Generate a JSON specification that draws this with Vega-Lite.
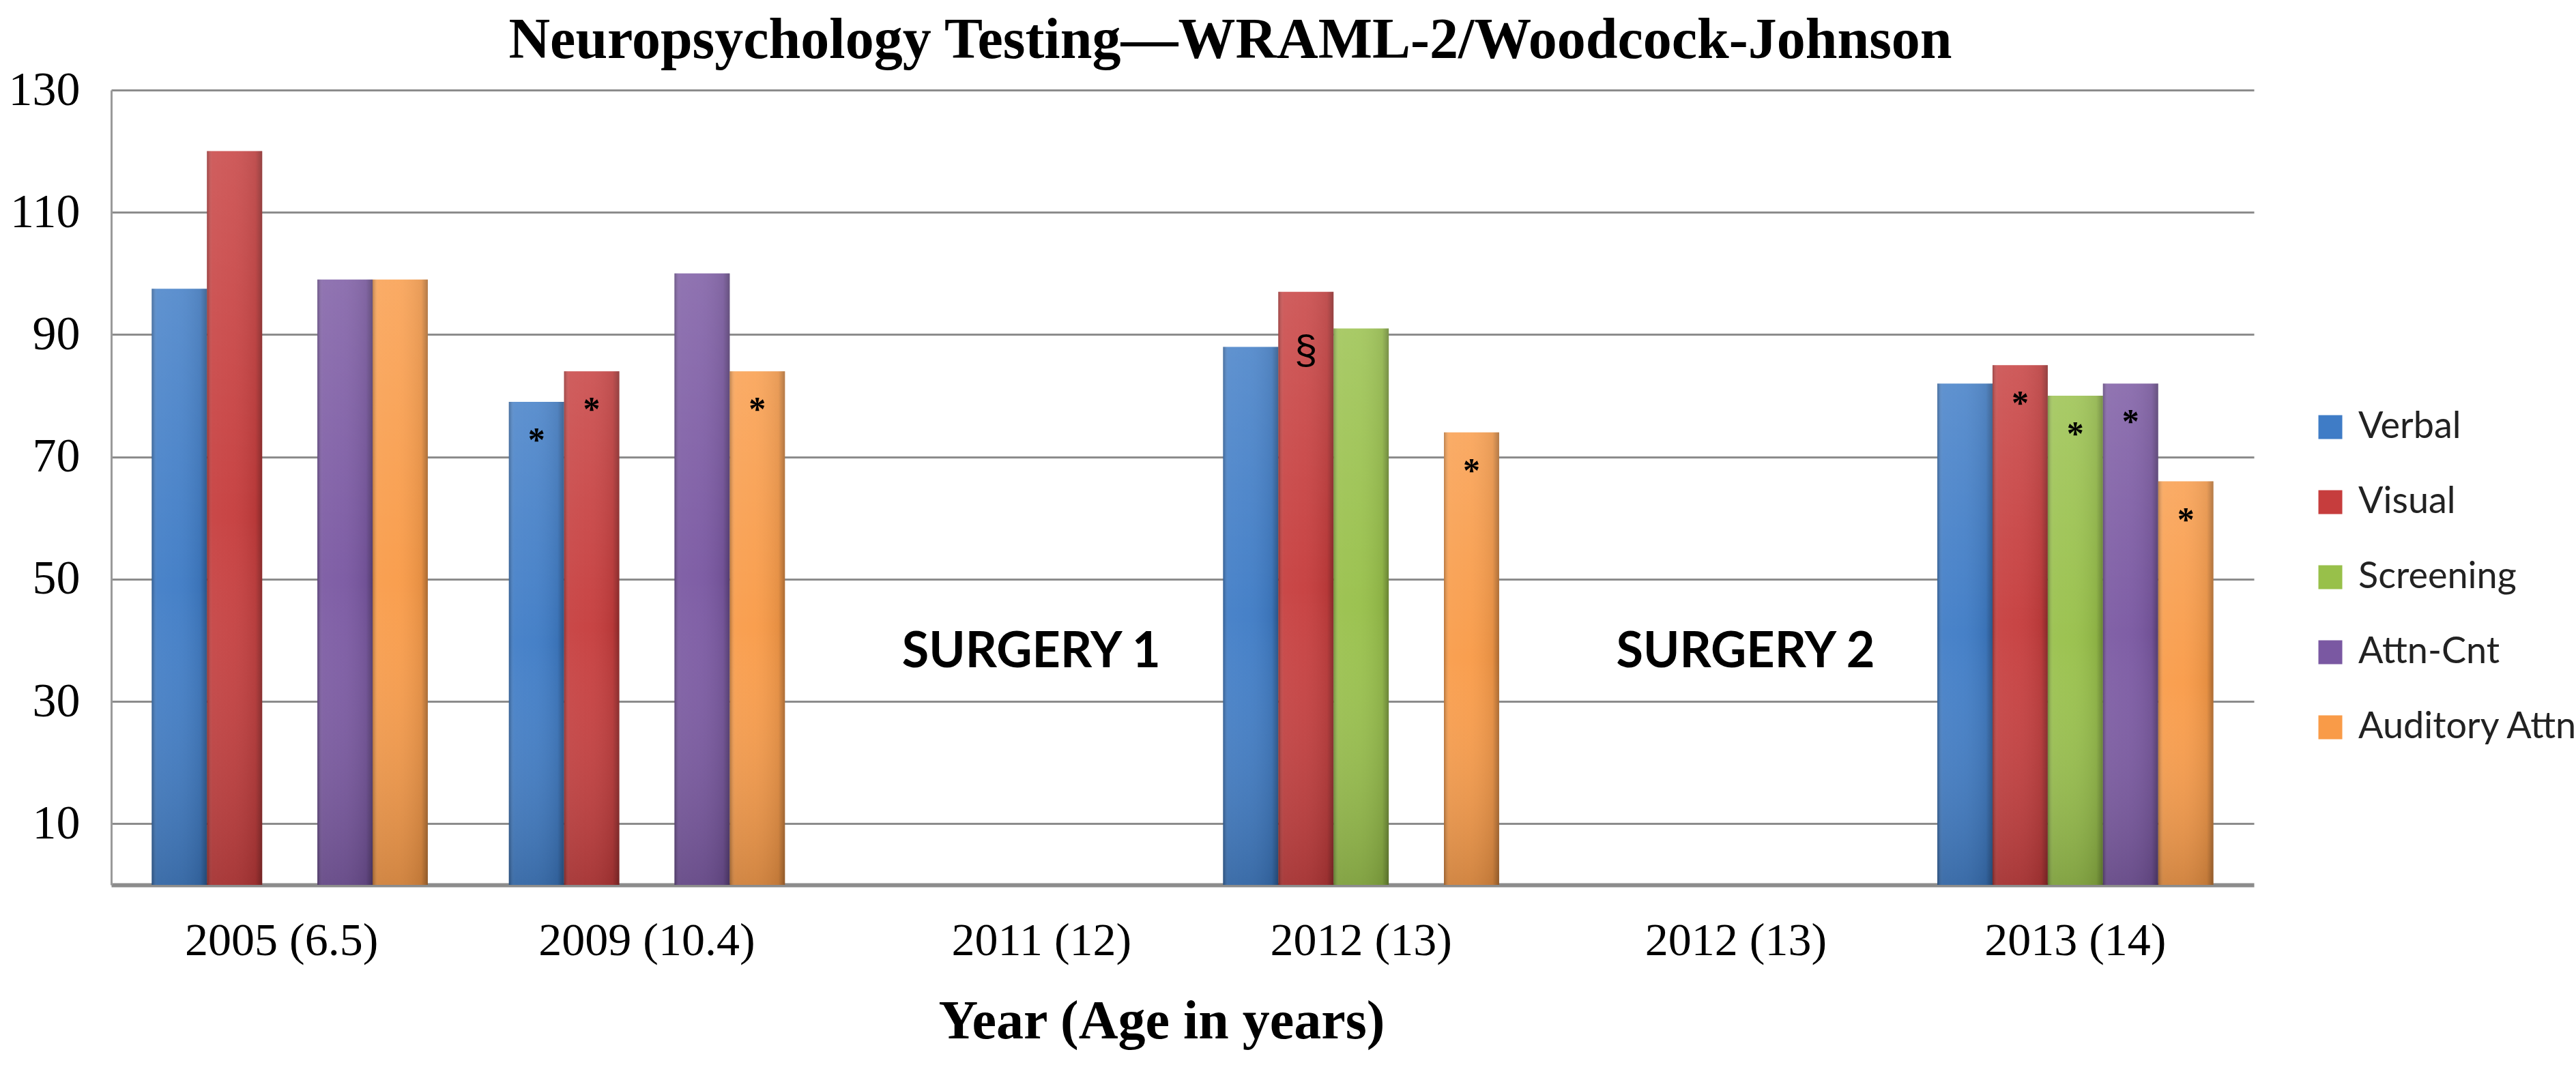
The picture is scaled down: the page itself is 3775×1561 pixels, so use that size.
{
  "$schema": "https://vega.github.io/schema/vega-lite/v6.json",
  "width": 3140,
  "height": 1165,
  "autosize": {"type": "none"},
  "padding": {"left": 163, "top": 132, "right": 472, "bottom": 264},
  "background": "white",
  "title": {
    "text": "Neuropsychology Testing—WRAML-2/Woodcock-Johnson",
    "font": "Liberation Serif",
    "fontSize": 84,
    "fontWeight": "bold",
    "color": "black",
    "anchor": "middle",
    "dx": 70,
    "dy": 28,
    "offset": 22,
    "limit": 0
  },
  "datasets": {
    "scores": [
      {"slot": "2005", "test": "Verbal", "score": 97.5, "note": ""},
      {"slot": "2005", "test": "Visual", "score": 120, "note": ""},
      {"slot": "2005", "test": "Attn-Cnt", "score": 99, "note": ""},
      {"slot": "2005", "test": "Auditory Attn", "score": 99, "note": ""},
      {"slot": "2009", "test": "Verbal", "score": 79, "note": "*"},
      {"slot": "2009", "test": "Visual", "score": 84, "note": "*"},
      {"slot": "2009", "test": "Attn-Cnt", "score": 100, "note": ""},
      {"slot": "2009", "test": "Auditory Attn", "score": 84, "note": "*"},
      {"slot": "2012a", "test": "Verbal", "score": 88, "note": ""},
      {"slot": "2012a", "test": "Visual", "score": 97, "note": "§"},
      {"slot": "2012a", "test": "Screening", "score": 91, "note": ""},
      {"slot": "2012a", "test": "Auditory Attn", "score": 74, "note": "*"},
      {"slot": "2013", "test": "Verbal", "score": 82, "note": ""},
      {"slot": "2013", "test": "Visual", "score": 85, "note": "*"},
      {"slot": "2013", "test": "Screening", "score": 80, "note": "*"},
      {"slot": "2013", "test": "Attn-Cnt", "score": 82, "note": "*"},
      {"slot": "2013", "test": "Auditory Attn", "score": 66, "note": "*"}
    ],
    "events": [
      {"slot": "2011", "label": "SURGERY 1"},
      {"slot": "2012b", "label": "SURGERY 2"}
    ]
  },
  "encoding": {
    "x": {
      "field": "slot",
      "type": "nominal",
      "sort": null,
      "scale": {
        "domain": ["2005", "2009", "2011", "2012a", "2012b", "2013"],
        "paddingInner": 0.227,
        "paddingOuter": 0.1135
      },
      "axis": {
        "title": "Year (Age in years)",
        "labelExpr": "{'2005': '2005 (6.5)', '2009': '2009 (10.4)', '2011': '2011 (12)', '2012a': '2012 (13)', '2012b': '2012 (13)', '2013': '2013 (14)'}[datum.value]",
        "labelAngle": 0,
        "labelLimit": 0,
        "labelFont": "Liberation Serif",
        "labelFontSize": 68,
        "labelColor": "black",
        "labelPadding": 48,
        "labelOffset": {
          "condition": [
            {"test": "datum.value == '2011'", "value": 55},
            {"test": "datum.value == '2012b'", "value": 26},
            {"test": "datum.value == '2005'", "value": -12}
          ],
          "value": 0
        },
        "ticks": false,
        "domain": true,
        "domainColor": "#8c8c8c",
        "domainWidth": 6,
        "grid": false,
        "titleFont": "Liberation Serif",
        "titleFontSize": 80,
        "titleFontWeight": "bold",
        "titleColor": "black",
        "titleX": 1539,
        "titleY": 200,
        "titleBaseline": "middle"
      }
    },
    "xOffset": {
      "field": "test",
      "type": "nominal",
      "scale": {"domain": ["Verbal", "Visual", "Screening", "Attn-Cnt", "Auditory Attn"]}
    }
  },
  "layer": [
    {
      "data": {"name": "scores"},
      "mark": {"type": "bar"},
      "encoding": {
        "y": {
          "field": "score",
          "type": "quantitative",
          "scale": {"domain": [0, 130], "nice": false},
          "axis": {
            "title": null,
            "values": [10, 30, 50, 70, 90, 110, 130],
            "labelFont": "Liberation Serif",
            "labelFontSize": 70,
            "labelColor": "black",
            "labelPadding": 46,
            "ticks": false,
            "grid": true,
            "gridColor": "#8c8c8c",
            "gridWidth": 3,
            "domain": true,
            "domainColor": "#9a9a9a",
            "domainWidth": 3
          }
        },
        "color": {
          "field": "test",
          "type": "nominal",
          "scale": {
            "domain": ["Verbal", "Visual", "Screening", "Attn-Cnt", "Auditory Attn"],
            "range": ["#3f7cc6", "#c63d3d", "#98c04a", "#7a58a2", "#f99b48"]
          },
          "legend": {
            "title": null,
            "orient": "none",
            "legendX": 3225,
            "legendY": 467,
            "symbolType": "square",
            "symbolSize": 1225,
            "symbolStrokeWidth": 0,
            "labelFont": "Lato",
            "labelFontSize": 54,
            "labelColor": "#222222",
            "labelOffset": 14,
            "labelLimit": 0,
            "rowPadding": 56,
            "padding": 0
          }
        }
      }
    },
    {
      "data": {"name": "scores"},
      "mark": {
        "type": "bar",
        "color": {
          "gradient": "linear",
          "x1": 0, "y1": 0, "x2": 1, "y2": 0,
          "stops": [
            {"offset": 0, "color": "rgba(0,0,0,0.28)"},
            {"offset": 0.1, "color": "rgba(255,255,255,0.06)"},
            {"offset": 0.45, "color": "rgba(255,255,255,0.04)"},
            {"offset": 0.88, "color": "rgba(0,0,0,0.08)"},
            {"offset": 1, "color": "rgba(0,0,0,0.32)"}
          ]
        }
      },
      "encoding": {
        "y": {"field": "score", "type": "quantitative"}
      }
    },
    {
      "data": {"name": "scores"},
      "mark": {
        "type": "bar",
        "color": {
          "gradient": "linear",
          "x1": 0, "y1": 0, "x2": 0, "y2": 1,
          "stops": [
            {"offset": 0, "color": "rgba(255,255,255,0.12)"},
            {"offset": 0.5, "color": "rgba(255,255,255,0)"},
            {"offset": 1, "color": "rgba(0,0,0,0.16)"}
          ]
        }
      },
      "encoding": {
        "y": {"field": "score", "type": "quantitative"}
      }
    },
    {
      "data": {"name": "scores"},
      "transform": [{"filter": "datum.note == '*'"}],
      "mark": {"type": "text", "font": "Liberation Serif", "fontSize": 50, "fontWeight": "bold", "baseline": "alphabetic", "dy": 72, "color": "black"},
      "encoding": {
        "y": {"field": "score", "type": "quantitative"},
        "text": {"field": "note"}
      }
    },
    {
      "data": {"name": "scores"},
      "transform": [{"filter": "datum.note == '§'"}],
      "mark": {"type": "text", "font": "Liberation Sans", "fontSize": 60, "baseline": "alphabetic", "dy": 105, "color": "black"},
      "encoding": {
        "y": {"field": "score", "type": "quantitative"},
        "text": {"field": "note"}
      }
    },
    {
      "data": {"name": "events"},
      "mark": {"type": "text", "font": "Lato", "fontWeight": "bold", "fontSize": 72, "baseline": "middle", "dx": 40, "color": "black"},
      "encoding": {
        "xOffset": null,
        "y": {"datum": 38, "type": "quantitative"},
        "text": {"field": "label"}
      }
    }
  ],
  "config": {
    "view": {"stroke": null}
  }
}
